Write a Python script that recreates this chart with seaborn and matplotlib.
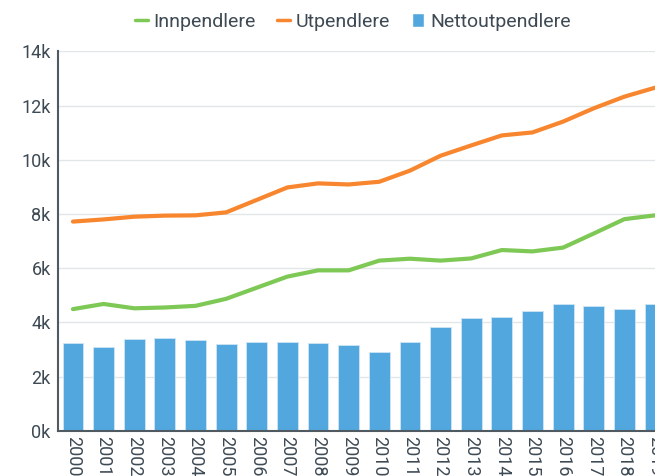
import matplotlib
matplotlib.use("Agg")
import matplotlib.pyplot as plt
from matplotlib.lines import Line2D
from matplotlib.patches import Patch
import numpy as np
import pandas as pd
import seaborn as sns

years = [str(y) for y in range(2000, 2020)]
innpendlere = [4490, 4680, 4520, 4550, 4610, 4870, 5280, 5690, 5920, 5920,
               6280, 6350, 6280, 6360, 6670, 6620, 6760, 7280, 7810, 7950]
utpendlere = [7720, 7800, 7900, 7940, 7950, 8060, 8520, 8980, 9130, 9090,
              9190, 9600, 10150, 10530, 10900, 11010, 11410, 11900, 12330, 12660]
netto = [3225, 3077, 3385, 3409, 3335, 3200, 3274, 3286, 3225, 3175,
         2917, 3274, 3828, 4160, 4197, 4418, 4677, 4603, 4505, 4677]

green = "#7ec856"
orange = "#f7862e"
blue = "#52a8de"
text_col = "#3d4953"

sns.set_theme(style="white")
plt.rcParams["font.family"] = ["Roboto", "DejaVu Sans"]

df = pd.DataFrame({"year": years, "pos": np.arange(len(years)),
                   "inn": innpendlere, "ut": utpendlere, "net": netto})

fig = plt.figure(figsize=(6.55, 4.76), dpi=100)
ax = fig.add_axes([0.088, 0.095, 0.912, 0.797])

sns.barplot(data=df, x="year", y="net", color=blue, saturation=1, width=0.68,
            edgecolor="#cfe6f5", linewidth=0.6, ax=ax, zorder=2)
sns.lineplot(data=df, x="pos", y="inn", color=green, lw=3, ax=ax, zorder=3)
sns.lineplot(data=df, x="pos", y="ut", color=orange, lw=3, ax=ax, zorder=3)

ax.set_xlim(-0.5, 19.0)
ax.set_ylim(0, 14000)
yt = np.arange(0, 14001, 2000)
ax.set_yticks(yt)
ax.set_yticklabels([f"{int(v/1000)}k" for v in yt], fontsize=13, color=text_col)
ax.set_xticks(range(len(years)))
ax.set_xticklabels(years, rotation=270, fontsize=13, color=text_col)
ax.tick_params(axis="y", length=0, pad=5)
ax.tick_params(axis="x", length=0, pad=4)
ax.set_xlabel("")
ax.set_ylabel("")
ax.grid(axis="y", color="#e3e6e8", lw=1, zorder=0)
ax.set_axisbelow(True)
for s in ["top", "right"]:
    ax.spines[s].set_visible(False)
for s in ["left", "bottom"]:
    ax.spines[s].set_color("#4f5a63")
    ax.spines[s].set_linewidth(1.5)

handles = [Line2D([], [], color=green, lw=2.5),
           Line2D([], [], color=orange, lw=2.5),
           Patch(facecolor=blue)]
fig.legend(handles, ["Innpendlere", "Utpendlere", "Nettoutpendlere"],
           loc="center", bbox_to_anchor=(353 / 655, 1 - 22 / 476), ncol=3,
           frameon=False, fontsize=14, labelcolor=text_col, handlelength=0.65,
           handleheight=0.7, handletextpad=0.3, columnspacing=1.1)

fig.savefig("out.png", dpi=100)
